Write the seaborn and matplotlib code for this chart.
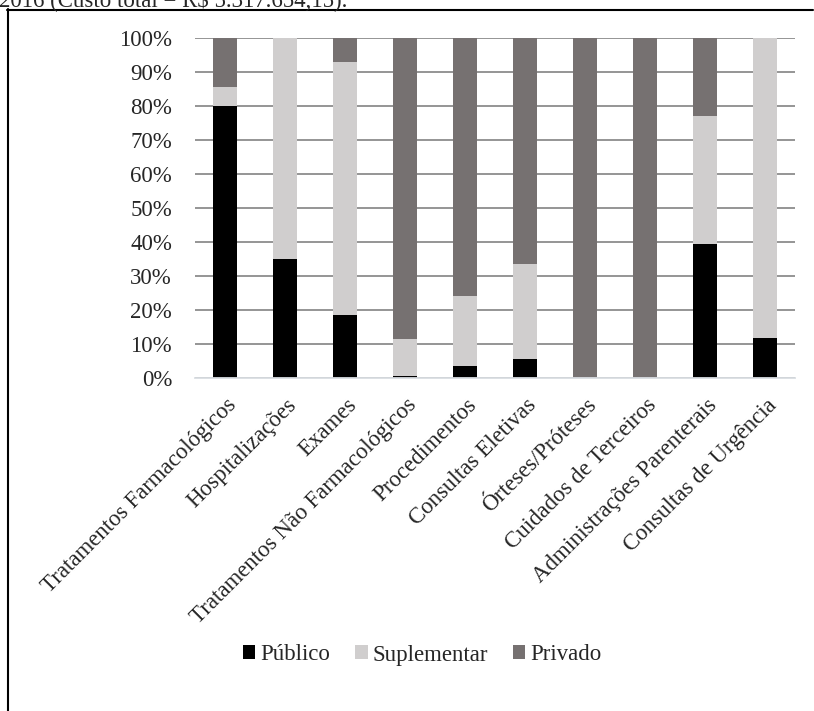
import matplotlib
matplotlib.use("Agg")
import matplotlib.pyplot as plt
import matplotlib.transforms as mtransforms
from matplotlib.lines import Line2D
from matplotlib.patches import Patch
import pandas as pd
import seaborn as sns

# Share of each cost category by payer (%)
categorias = [
    "Tratamentos Farmacológicos",
    "Hospitalizações",
    "Exames",
    "Tratamentos Não Farmacológicos",
    "Procedimentos",
    "Consultas Eletivas",
    "Órteses/Próteses",
    "Cuidados de Terceiros",
    "Administrações Parenterais",
    "Consultas de Urgência",
]
publico = [80.0, 35.0, 18.6, 0.5, 3.6, 5.7, 0.0, 0.0, 39.4, 11.9]
suplementar = [5.5, 65.0, 74.4, 11.0, 20.6, 27.9, 0.0, 0.0, 37.8, 88.1]
privado = [14.5, 0.0, 7.0, 88.5, 75.8, 66.4, 100.0, 100.0, 22.8, 0.0]
yticks = [0, 10, 20, 30, 40, 50, 60, 70, 80, 90, 100]
series = ["Público", "Suplementar", "Privado"]
cores = {"Público": "#000000", "Suplementar": "#D0CECE", "Privado": "#767171"}
legenda_titulo = "2016 (Custo total = R$ 5.317.654,15)."

df = pd.DataFrame({
    "categoria": categorias,
    "Público": publico,
    "Suplementar": suplementar,
    "Privado": privado,
})
# cumulative heights for stacked layering (tallest drawn first)
df["top_priv"] = df["Público"] + df["Suplementar"] + df["Privado"]
df["top_sup"] = df["Público"] + df["Suplementar"]
df["top_pub"] = df["Público"]

sns.set_style("white")
plt.rcParams["font.family"] = ["Liberation Serif", "DejaVu Serif"]

W, H = 814, 711
fig = plt.figure(figsize=(W / 100, H / 100), dpi=100)
ax = fig.add_axes([195 / W, 1 - 378 / H, 600 / W, 340 / H])

bw = 0.39
for col, serie in [("top_priv", "Privado"), ("top_sup", "Suplementar"), ("top_pub", "Público")]:
    sns.barplot(data=df, x="categoria", y=col, color=cores[serie], width=bw,
                saturation=1, edgecolor="none", linewidth=0, ax=ax, zorder=3)

ax.set_ylim(0, 100)
ax.set_xlim(-0.5, len(categorias) - 0.5)
ax.set_yticks(yticks)
ax.set_yticklabels([f"{v}%" for v in yticks])
ax.set_xlabel("")
ax.set_ylabel("")

ax.yaxis.grid(True, color="#8c8c8c", linewidth=1.3, zorder=0)
ax.set_axisbelow(True)
for s in ["top", "right", "left"]:
    ax.spines[s].set_visible(False)
ax.spines["bottom"].set_color("#d9dde2")
ax.spines["bottom"].set_linewidth(1.3)
ax.spines["bottom"].set_zorder(4)

ax.tick_params(axis="y", length=0, pad=16.5, labelsize=16.5)
ax.tick_params(axis="x", length=0, pad=12, labelsize=16.5)

offset = mtransforms.ScaledTranslation(1 / 100, 0, fig.dpi_scale_trans)
for lbl in ax.get_xticklabels():
    lbl.set_rotation(45)
    lbl.set_rotation_mode("anchor")
    lbl.set_ha("right")
    lbl.set_va("top")
    lbl.set_transform(lbl.get_transform() + offset)

handles = [Patch(facecolor=cores[s], edgecolor="none", label=s) for s in series]
fig.legend(handles=handles, loc="center", bbox_to_anchor=(422 / W, 1 - 655 / H),
           ncol=3, frameon=False, fontsize=16.5, handlelength=0.55, handleheight=0.55,
           handletextpad=0.2, columnspacing=1.1)

# surrounding frame (left and top edges) and caption line above it
fig.add_artist(Line2D([7.5 / W, 7.5 / W], [0, 1 - 9 / H], color="black", linewidth=1.5,
                      transform=fig.transFigure))
fig.add_artist(Line2D([7 / W, 813 / W], [1 - 9.5 / H, 1 - 9.5 / H], color="black",
                      linewidth=1.5, transform=fig.transFigure))
fig.text(-1 / W, 1 - 6 / H, legenda_titulo, fontsize=16.5, ha="left", va="baseline")

fig.savefig("out.png", dpi=100)
